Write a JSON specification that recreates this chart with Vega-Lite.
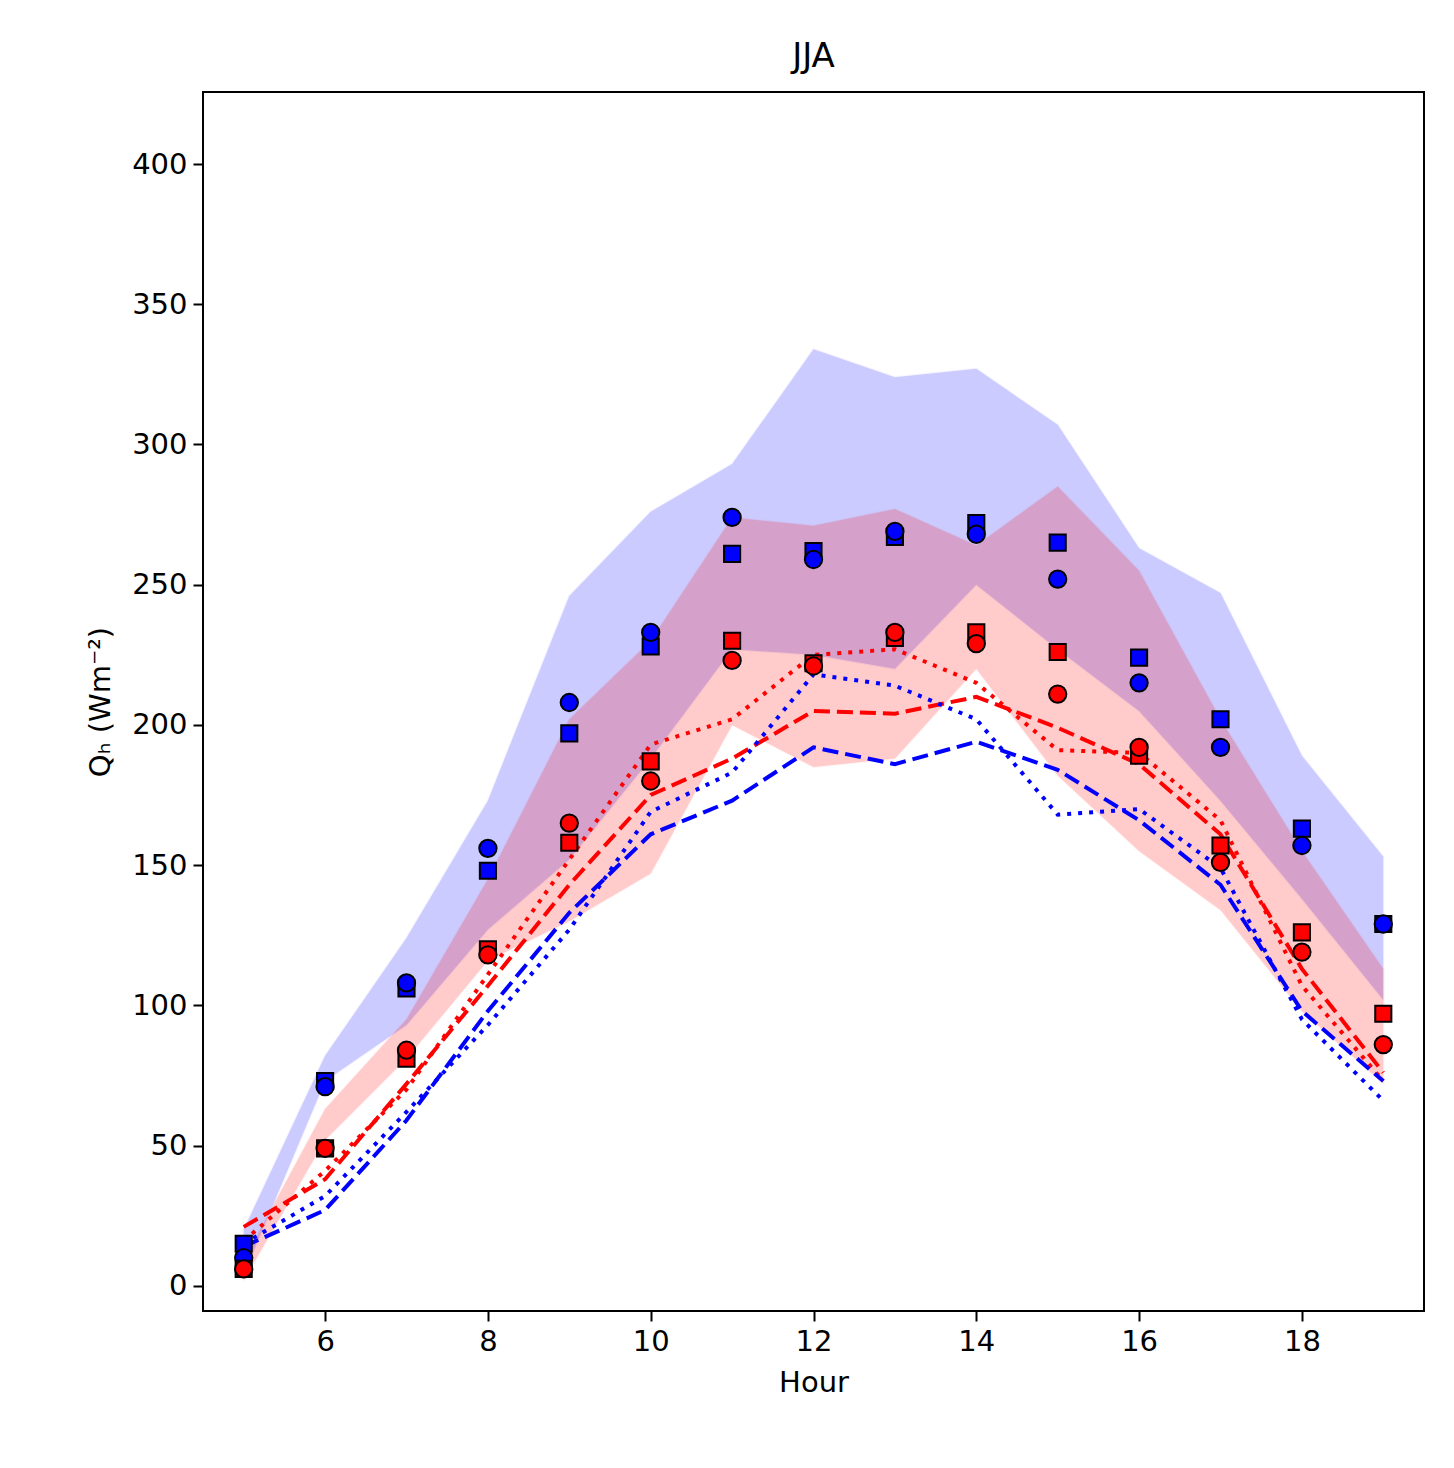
{
  "$schema": "https://vega.github.io/schema/vega-lite/v6.json",
  "width": 1221,
  "height": 1219,
  "autosize": "none",
  "padding": {"left": 203, "top": 92, "right": 30, "bottom": 157},
  "background": "white",
  "config": {
    "font": "DejaVu Sans",
    "view": {"stroke": "black", "strokeWidth": 2},
    "axis": {"grid": false, "domain": false, "tickColor": "black", "tickSize": 10, "tickWidth": 2, "labelFontSize": 29, "labelColor": "black", "titleFontSize": 29, "titleFontWeight": "normal", "titleColor": "black", "labelPadding": 6, "labelFont": "DejaVu Sans", "titleFont": "DejaVu Sans"}
  },
  "title": {"text": "JJA", "fontSize": 34, "fontWeight": "normal", "font": "DejaVu Sans", "offset": 18, "color": "black"},
  "data": {"values": [
    {"hour": 5, "b_lo": 4, "b_hi": 20, "r_lo": 2, "r_hi": 9, "bc": 10, "bs": 15, "rc": 6, "rs": 6, "rd": 21, "rdot": 16, "bd": 14, "bdot": 15},
    {"hour": 6, "b_lo": 73, "b_hi": 82, "r_lo": 52, "r_hi": 63, "bc": 71, "bs": 73, "rc": 49, "rs": 49, "rd": 38, "rdot": 41, "bd": 27, "bdot": 32},
    {"hour": 7, "b_lo": 93, "b_hi": 124, "r_lo": 81, "r_hi": 95, "bc": 108, "bs": 106, "rc": 84, "rs": 81, "rd": 72, "rdot": 70, "bd": 59, "bdot": 62},
    {"hour": 8, "b_lo": 127, "b_hi": 173, "r_lo": 116, "r_hi": 145, "bc": 156, "bs": 148, "rc": 118, "rs": 120, "rd": 107, "rdot": 111, "bd": 98, "bdot": 93},
    {"hour": 9, "b_lo": 152, "b_hi": 246, "r_lo": 130, "r_hi": 202, "bc": 208, "bs": 197, "rc": 165, "rs": 158, "rd": 143, "rdot": 152, "bd": 133, "bdot": 127},
    {"hour": 10, "b_lo": 188, "b_hi": 276, "r_lo": 147, "r_hi": 230, "bc": 233, "bs": 228, "rc": 180, "rs": 187, "rd": 175, "rdot": 193, "bd": 161, "bdot": 169},
    {"hour": 11, "b_lo": 227, "b_hi": 293, "r_lo": 200, "r_hi": 274, "bc": 274, "bs": 261, "rc": 223, "rs": 230, "rd": 188, "rdot": 202, "bd": 173, "bdot": 183},
    {"hour": 12, "b_lo": 225, "b_hi": 334, "r_lo": 185, "r_hi": 271, "bc": 259, "bs": 262, "rc": 221, "rs": 222, "rd": 205, "rdot": 225, "bd": 192, "bdot": 218},
    {"hour": 13, "b_lo": 220, "b_hi": 324, "r_lo": 188, "r_hi": 277, "bc": 269, "bs": 267, "rc": 233, "rs": 231, "rd": 204, "rdot": 227, "bd": 186, "bdot": 214},
    {"hour": 14, "b_lo": 250, "b_hi": 327, "r_lo": 220, "r_hi": 264, "bc": 268, "bs": 272, "rc": 229, "rs": 233, "rd": 210, "rdot": 215, "bd": 194, "bdot": 202},
    {"hour": 15, "b_lo": 227, "b_hi": 307, "r_lo": 182, "r_hi": 285, "bc": 252, "bs": 265, "rc": 211, "rs": 226, "rd": 199, "rdot": 191, "bd": 184, "bdot": 168},
    {"hour": 16, "b_lo": 205, "b_hi": 263, "r_lo": 155, "r_hi": 255, "bc": 215, "bs": 224, "rc": 192, "rs": 189, "rd": 186, "rdot": 190, "bd": 166, "bdot": 170},
    {"hour": 17, "b_lo": 173, "b_hi": 247, "r_lo": 134, "r_hi": 202, "bc": 192, "bs": 202, "rc": 151, "rs": 157, "rd": 161, "rdot": 166, "bd": 143, "bdot": 149},
    {"hour": 18, "b_lo": 138, "b_hi": 189, "r_lo": 98, "r_hi": 155, "bc": 157, "bs": 163, "rc": 119, "rs": 126, "rd": 113, "rdot": 107, "bd": 98, "bdot": 95},
    {"hour": 19, "b_lo": 102, "b_hi": 153, "r_lo": 72, "r_hi": 113, "bc": 129, "bs": 129, "rc": 86, "rs": 97, "rd": 76, "rdot": 73, "bd": 73, "bdot": 66}
  ]},
  "encoding": {
    "x": {"field": "hour", "type": "quantitative", "title": "Hour", "scale": {"domain": [4.5, 19.5], "nice": false, "zero": false}, "axis": {"values": [6, 8, 10, 12, 14, 16, 18], "titlePadding": 12}}
  },
  "layer": [
    {"mark": {"type": "area", "color": "blue", "opacity": 0.2, "stroke": "blue", "strokeOpacity": 0.2, "strokeWidth": 2},
     "encoding": {"y": {"field": "b_lo", "type": "quantitative", "title": "Qₕ (Wm⁻²)", "scale": {"domain": [-9, 425.7], "nice": false, "zero": false}, "axis": {"values": [0, 50, 100, 150, 200, 250, 300, 350, 400], "titlePadding": 16}}, "y2": {"field": "b_hi"}}},
    {"mark": {"type": "area", "color": "red", "opacity": 0.2, "stroke": "red", "strokeOpacity": 0.2, "strokeWidth": 2},
     "encoding": {"y": {"field": "r_lo", "type": "quantitative"}, "y2": {"field": "r_hi"}}},
    {"mark": {"type": "line", "color": "red", "strokeWidth": 4, "strokeDash": [16, 7]}, "encoding": {"y": {"field": "rd", "type": "quantitative"}}},
    {"mark": {"type": "line", "color": "red", "strokeWidth": 4, "strokeDash": [4, 7]}, "encoding": {"y": {"field": "rdot", "type": "quantitative"}}},
    {"mark": {"type": "line", "color": "blue", "strokeWidth": 4, "strokeDash": [16, 7]}, "encoding": {"y": {"field": "bd", "type": "quantitative"}}},
    {"mark": {"type": "line", "color": "blue", "strokeWidth": 4, "strokeDash": [4, 7]}, "encoding": {"y": {"field": "bdot", "type": "quantitative"}}},
    {"mark": {"type": "point", "shape": "square", "filled": true, "fill": "blue", "stroke": "black", "strokeWidth": 2, "size": 260, "opacity": 1}, "encoding": {"y": {"field": "bs", "type": "quantitative"}}},
    {"mark": {"type": "point", "shape": "circle", "filled": true, "fill": "blue", "stroke": "black", "strokeWidth": 2, "size": 300, "opacity": 1}, "encoding": {"y": {"field": "bc", "type": "quantitative"}}},
    {"mark": {"type": "point", "shape": "square", "filled": true, "fill": "red", "stroke": "black", "strokeWidth": 2, "size": 260, "opacity": 1}, "encoding": {"y": {"field": "rs", "type": "quantitative"}}},
    {"mark": {"type": "point", "shape": "circle", "filled": true, "fill": "red", "stroke": "black", "strokeWidth": 2, "size": 300, "opacity": 1}, "encoding": {"y": {"field": "rc", "type": "quantitative"}}}
  ]
}
